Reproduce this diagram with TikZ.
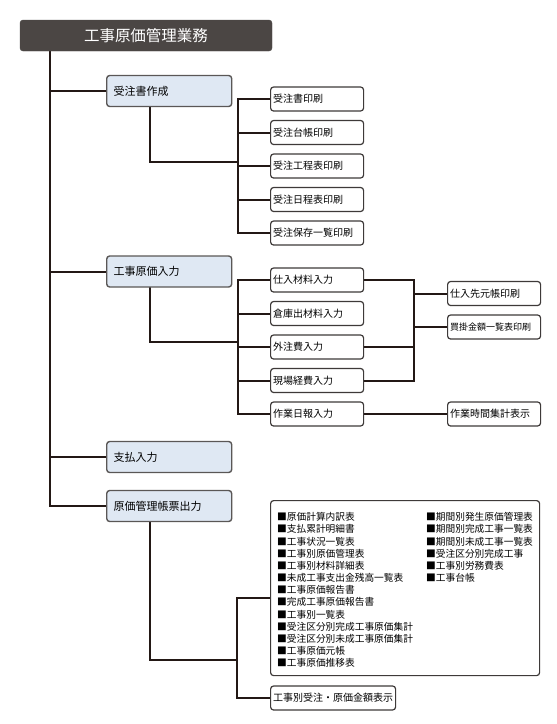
\documentclass[tikz,border=0pt]{standalone}
\usepackage{fontspec}
\setmainfont{Noto Sans CJK JP}
\definecolor{hdr}{HTML}{4B4644}
\definecolor{lb}{HTML}{DFE8F3}
\definecolor{ln}{HTML}{231815}
\definecolor{bd}{HTML}{5A5756}
\definecolor{bd2}{HTML}{3E3A39}
\pgfdeclarelayer{bg}
\pgfsetlayers{bg,main}
\begin{document}
\begin{tikzpicture}[x=1pt,y=-1pt,
 conn/.style={draw=ln,line width=2pt,line cap=rect},
 hdrbox/.style={fill=hdr,draw=hdr,rounded corners=3pt,minimum width=252pt,minimum height=31pt,text=white,font=\fontsize{15.5}{15.5}\selectfont,inner sep=0pt},
 lone/.style={draw=bd,line width=1.4pt,fill=lb,rounded corners=3pt,minimum height=31pt,text width=111pt,inner xsep=7pt,inner ysep=0pt,align=left,font=\fontsize{11}{11}\selectfont,anchor=west},
 ltwo/.style={draw=bd2,line width=1.2pt,fill=white,rounded corners=3pt,minimum height=24pt,text width=88pt,inner xsep=2.5pt,inner ysep=0pt,align=left,font=\fontsize{10}{10}\selectfont,anchor=west},
 listitem/.style={anchor=west,inner sep=0pt,font=\fontsize{9.7}{9.7}\selectfont},
]
\path[use as bounding box] (0,0) rectangle (557,724);

\node[hdrbox] (root) at (146,35.5) {工事原価管理業務};

\node[lone] (b1) at (106,91) {受注書作成};
\node[lone] (b2) at (106,271.5) {工事原価入力};
\node[lone] (b3) at (106,457) {支払入力};
\node[lone] (b4) at (106,506) {原価管理帳票出力};

\node[ltwo] (c11) at (270,99) {受注書印刷};
\node[ltwo] (c12) at (270,132.5) {受注台帳印刷};
\node[ltwo] (c13) at (270,166) {受注工程表印刷};
\node[ltwo] (c14) at (270,199.5) {受注日程表印刷};
\node[ltwo] (c15) at (270,233) {受注保存一覧印刷};

\node[ltwo] (c21) at (270,280) {仕入材料入力};
\node[ltwo] (c22) at (270,313.5) {倉庫出材料入力};
\node[ltwo] (c23) at (270,347) {外注費入力};
\node[ltwo] (c24) at (270,380.5) {現場経費入力};
\node[ltwo] (c25) at (270,414) {作業日報入力};

\node[ltwo] (d1) at (447,293.5) {仕入先元帳印刷};
\node[ltwo,font=\fontsize{9}{9}\selectfont] (d2) at (447,327) {買掛金額一覧表印刷};
\node[ltwo] (d3) at (447,414) {作業時間集計表示};

\node[draw=bd2,line width=1.2pt,fill=white,rounded corners=3pt,minimum width=269pt,minimum height=175pt,anchor=north west,inner sep=0pt] (e1) at (270,500) {};
\foreach \t [count=\i] in {■原価計算内訳表,■支払累計明細書,■工事状況一覧表,■工事別原価管理表,■工事別材料詳細表,■未成工事支出金残高一覧表,■工事原価報告書,■完成工事原価報告書,■工事別一覧表,■受注区分別完成工事原価集計,■受注区分別未成工事原価集計,■工事原価元帳,■工事原価推移表}
  \node[listitem] (la\i) at (277,{517+12.17*(\i-1)}) {\t};
\foreach \t [count=\i] in {■期間別発生原価管理表,■期間別完成工事一覧表,■期間別未成工事一覧表,■受注区分別完成工事,■工事別労務費表,■工事台帳}
  \node[listitem] (lb\i) at (426,{517+12.17*(\i-1)}) {\t};

\node[ltwo,text width=120pt] (e2) at (270,698) {工事別受注・原価金額表示};

\begin{pgfonlayer}{bg}
\coordinate (tx) at (50,0);
\coordinate (sx) at (150,0);
\coordinate (v1) at (238,162);
\coordinate (v2) at (238,342);
\coordinate (v4) at (237,660);
\coordinate (rb) at (414,0);
\coordinate (e1in) at (270,598);
% trunk
\draw[conn] (tx |- root.south) |- (b4.west);
\foreach \b in {b1,b2,b3} \draw[conn] (tx |- \b.west) -- (\b.west);
% group 1
\draw[conn] (sx |- b1.south) |- (v1);
\draw[conn] (v1 |- c11.west) -- (v1 |- c15.west);
\foreach \c in {c11,c12,c13,c14,c15} \draw[conn] (v1 |- \c.west) -- (\c.west);
% group 2
\draw[conn] (sx |- b2.south) |- (v2);
\draw[conn] (v2 |- c21.west) -- (v2 |- c25.west);
\foreach \c in {c21,c22,c23,c24,c25} \draw[conn] (v2 |- \c.west) -- (\c.west);
\draw[conn] (c21.east) -| (rb |- c24.east) -- (c24.east);
\draw[conn] (c23.east) -- (rb |- c23.east);
\draw[conn] (rb |- d1.west) -- (d1.west);
\draw[conn] (rb |- d2.west) -- (d2.west);
\draw[conn] (c25.east) -- (d3.west);
% group 4
\draw[conn] (sx |- b4.south) |- (v4);
\draw[conn] (v4 |- e1in) -- (e1in);
\draw[conn] (v4 |- e1in) |- (e2.west);
\end{pgfonlayer}
\end{tikzpicture}
\end{document}
